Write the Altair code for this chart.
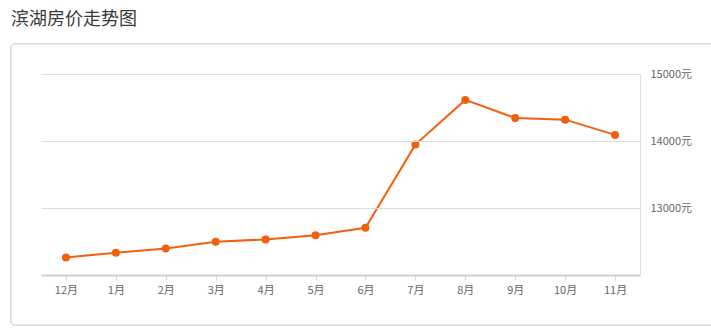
import altair as alt
import pandas as pd

months = ["12月", "1月", "2月", "3月", "4月", "5月", "6月", "7月", "8月", "9月", "10月", "11月"]
prices = [12262, 12332, 12396, 12496, 12531, 12595, 12705, 13946, 14613, 14344, 14319, 14091]
y_ticks = [13000, 14000, 15000]

df = pd.DataFrame({"month": months, "price": prices})

FONT = "Noto Sans CJK SC"
ORANGE = "#f2600f"

x_enc = alt.X(
    "month:N",
    sort=months,
    scale=alt.Scale(type="point", padding=0.5),
    axis=alt.Axis(
        title=None,
        labelAngle=0,
        labelFont=FONT,
        labelFontSize=11,
        labelColor="#666666",
        labelPadding=4,
        domainColor="#cfcfcf",
        domainWidth=2,
        tickColor="#d5d5d5",
        tickSize=5,
        grid=False,
        zindex=1,
    ),
)
y_enc = alt.Y(
    "price:Q",
    scale=alt.Scale(domain=[12000, 15000], nice=False, zero=False),
    axis=alt.Axis(
        title=None,
        orient="right",
        values=y_ticks,
        labelExpr="datum.value + '元'",
        labelFont=FONT,
        labelFontSize=11,
        labelColor="#666666",
        labelPadding=10,
        ticks=False,
        domainColor="#dddddd",
        domainWidth=1,
        grid=True,
        gridColor="#dddddd",
        gridWidth=1,
        zindex=1,
    ),
)

frame = alt.Chart(df).mark_rect(
    fill="white", stroke="#d9d9d9", strokeWidth=1, cornerRadius=4, clip=False
).encode(
    x=alt.value(-30), x2=alt.value(690), y=alt.value(-30), y2=alt.value(251)
)

line = alt.Chart(df).mark_line(color=ORANGE, strokeWidth=2).encode(x=x_enc, y=y_enc)
points = alt.Chart(df).mark_circle(color=ORANGE, size=64, opacity=1).encode(
    x=alt.X("month:N", sort=months), y="price:Q"
)

chart = (
    alt.layer(frame, line, points)
    .properties(
        width=599,
        height=201,
        autosize=alt.AutoSizeParams(type="none"),
        padding={"left": 41, "top": 74, "right": 71, "bottom": 54},
        background="white",
        title=alt.TitleParams(
            "滨湖房价走势图",
            anchor="start",
            frame="group",
            font=FONT,
            fontSize=18,
            fontWeight="normal",
            color="#3a3a3a",
            dx=-30,
            dy=-11,
        ),
    )
    .configure_view(stroke=None)
)

chart.save("out.html", embed_options={"renderer": "svg", "actions": False})
